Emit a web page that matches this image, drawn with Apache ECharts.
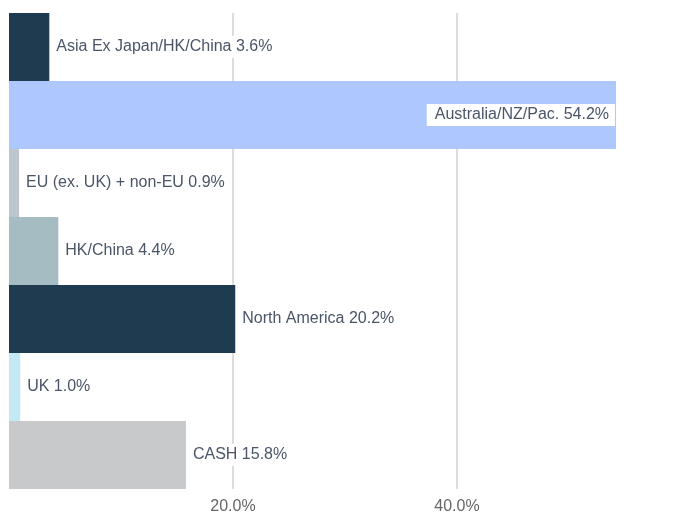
<!DOCTYPE html>
<html>
<head>
    <meta charset="UTF-8">
    <title>Regional allocation</title>
    <style>
        html, body { margin: 0; padding: 0; background: #fff; }
        #chart { width: 673px; height: 512px; }
    </style>
    <script src="https://cdn.jsdelivr.net/npm/echarts@6/dist/echarts.min.js"></script>
</head>
<body>
    <div id="chart"></div>
    <script>
        // data
        var regions = ['Asia Ex Japan/HK/China', 'Australia/NZ/Pac.', 'EU (ex. UK) + non-EU', 'HK/China', 'North America', 'UK', 'CASH'];
        var weights = [3.6, 54.2, 0.9, 4.4, 20.2, 1.0, 15.8];
        var barColors = ['#1f3b50', '#aec8fd', '#bcc6cc', '#a4bcc2', '#1f3b50', '#c5e8f5', '#c8c9cb'];
        var insideLabel = [false, true, false, false, false, false, false];

        var chart = echarts.init(document.getElementById('chart'));

        var barData = weights.map(function (v, i) {
            return {
                value: v,
                itemStyle: { color: barColors[i] },
                label: insideLabel[i] ? { position: 'insideRight', distance: 1, padding: [3, 6, 3, 8] } : {}
            };
        });

        chart.setOption({
            animation: false,
            textStyle: { fontFamily: 'Liberation Sans, Arial, sans-serif' },
            grid: {
                left: 9,
                top: 13,
                width: 672,
                bottom: 23,
                containLabel: false,
                outerBoundsMode: 'none'
            },
            xAxis: {
                type: 'value',
                min: 0,
                max: 60,
                interval: 20,
                axisLine: { show: false },
                axisTick: { show: false },
                axisLabel: {
                    color: '#666',
                    fontSize: 16,
                    margin: 10,
                    formatter: function (v) { return v === 0 || v === 60 ? '' : v.toFixed(1) + '%'; }
                },
                splitLine: { showMinLine: false, lineStyle: { color: '#dcdcdc', width: 2 } }
            },
            yAxis: {
                type: 'category',
                inverse: true,
                data: regions,
                axisLine: { show: false },
                axisTick: { show: false },
                axisLabel: { show: false },
                splitLine: { show: false }
            },
            series: [{
                type: 'bar',
                data: barData,
                barCategoryGap: 0,
                label: {
                    show: true,
                    position: 'right',
                    distance: 4,
                    color: '#4a5568',
                    fontSize: 16,
                    backgroundColor: '#fff',
                    padding: [3, 3],
                    formatter: function (p) { return p.name + ' ' + p.value.toFixed(1) + '%'; }
                }
            }]
        });
    </script>
</body>
</html>
